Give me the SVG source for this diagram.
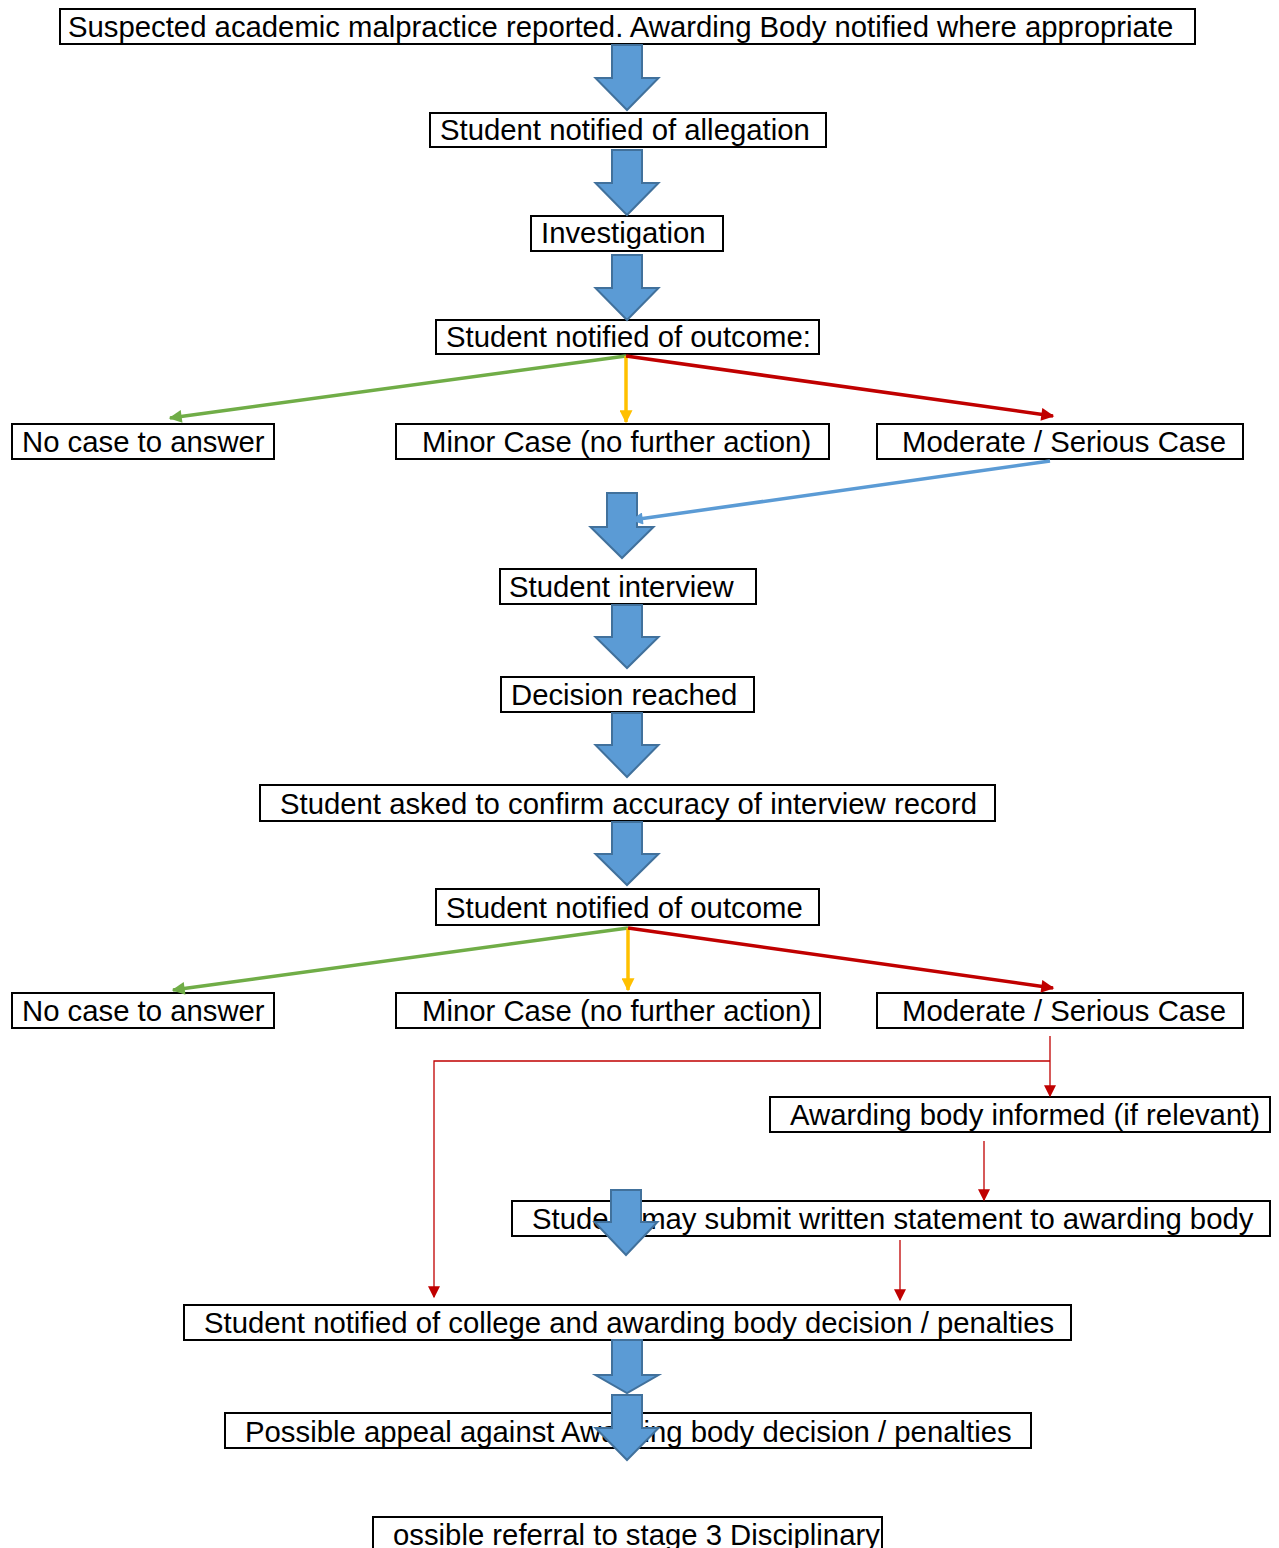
<svg xmlns="http://www.w3.org/2000/svg" width="1279" height="1548" viewBox="0 0 1279 1548">
<defs>
<style>
.box{fill:#fff;stroke:#000;stroke-width:2}
.t{font-family:"Liberation Sans",Arial,sans-serif;font-size:29.3px;fill:#000}
.blk{fill:#5B9BD5;stroke:#41719C;stroke-width:2}
.g{stroke:#70AD47;stroke-width:3.5;fill:none}
.y{stroke:#FFC000;stroke-width:3.5;fill:none}
.r{stroke:#C00000;stroke-width:3.5;fill:none}
.b{stroke:#5B9BD5;stroke-width:3.5;fill:none}
.rt{stroke:#C00000;stroke-width:1.3;fill:none}
</style>
<marker id="mg" viewBox="0 0 10 10" refX="9" refY="5" markerWidth="16" markerHeight="13" markerUnits="userSpaceOnUse" orient="auto"><path d="M0,0L10,5L0,10Z" fill="#70AD47"/></marker>
<marker id="my" viewBox="0 0 10 10" refX="9" refY="5" markerWidth="16" markerHeight="13" markerUnits="userSpaceOnUse" orient="auto"><path d="M0,0L10,5L0,10Z" fill="#FFC000"/></marker>
<marker id="mr" viewBox="0 0 10 10" refX="9" refY="5" markerWidth="16" markerHeight="13" markerUnits="userSpaceOnUse" orient="auto"><path d="M0,0L10,5L0,10Z" fill="#C00000"/></marker>
<marker id="mb" viewBox="0 0 10 10" refX="9" refY="5" markerWidth="14" markerHeight="12" markerUnits="userSpaceOnUse" orient="auto"><path d="M0,0L10,5L0,10Z" fill="#5B9BD5"/></marker>
<marker id="mrt" viewBox="0 0 10 10" refX="9" refY="5" markerWidth="15" markerHeight="12" markerUnits="userSpaceOnUse" orient="auto"><path d="M0,0L10,5L0,10Z" fill="#C00000"/></marker>
</defs>
<rect width="1279" height="1548" fill="#fff"/>
<g id="nodes">
<g id="n1"><rect class="box" x="60" y="9" width="1135" height="35"/><text class="t" x="68" y="37">Suspected academic malpractice reported. Awarding Body notified where appropriate</text></g>
<g id="n2"><rect class="box" x="430" y="113" width="396" height="34"/><text class="t" x="440" y="140">Student notified of allegation</text></g>
<g id="n3"><rect class="box" x="531" y="216" width="192" height="35"/><text class="t" x="541" y="243">Investigation</text></g>
<g id="n4"><rect class="box" x="436" y="320" width="383" height="34"/><text class="t" x="446" y="347">Student notified of outcome:</text></g>
<g id="n5"><rect class="box" x="12" y="424" width="262" height="35"/><text class="t" x="22" y="452">No case to answer</text></g>
<g id="n6"><rect class="box" x="396" y="424" width="433" height="35"/><text class="t" x="422" y="452">Minor Case (no further action)</text></g>
<g id="n7"><rect class="box" x="877" y="424" width="366" height="35"/><text class="t" x="902" y="452">Moderate / Serious Case</text></g>
<g id="n8"><rect class="box" x="500" y="569" width="256" height="35"/><text class="t" x="509" y="597">Student interview</text></g>
<g id="n9"><rect class="box" x="501" y="677" width="253" height="35"/><text class="t" x="511" y="705">Decision reached</text></g>
<g id="n10"><rect class="box" x="260" y="785" width="735" height="36"/><text class="t" x="280" y="814">Student asked to confirm accuracy of interview record</text></g>
<g id="n11"><rect class="box" x="436" y="889" width="383" height="36"/><text class="t" x="446" y="918">Student notified of outcome</text></g>
<g id="n12"><rect class="box" x="12" y="993" width="262" height="35"/><text class="t" x="22" y="1021">No case to answer</text></g>
<g id="n13"><rect class="box" x="396" y="993" width="424" height="35"/><text class="t" x="422" y="1021">Minor Case (no further action)</text></g>
<g id="n14"><rect class="box" x="877" y="993" width="366" height="35"/><text class="t" x="902" y="1021">Moderate / Serious Case</text></g>
<g id="n15"><rect class="box" x="770" y="1097" width="500" height="35"/><text class="t" x="790" y="1125">Awarding body informed (if relevant)</text></g>
<g id="n16"><rect class="box" x="512" y="1201" width="758" height="35"/><text class="t" x="532" y="1229">Student may submit written statement to awarding body</text></g>
<g id="n17"><rect class="box" x="184" y="1305" width="887" height="35"/><text class="t" x="204" y="1333">Student notified of college and awarding body decision / penalties</text></g>
<g id="n18"><rect class="box" x="225" y="1413" width="806" height="35"/><text class="t" x="245" y="1442">Possible appeal against Awarding body decision / penalties</text></g>
<g id="n19"><rect class="box" x="373" y="1517" width="509" height="40"/><text class="t" x="393" y="1545">ossible referral to stage 3 Disciplinary</text></g>
</g>
<g id="connectors">
<path class="blk" d="M612,45H642V78H658.5L627,110L595.5,78H612Z"/>
<path class="blk" d="M612,150H642V183H658.5L627,215L595.5,183H612Z"/>
<path class="blk" d="M612,255H642V288H658.5L627,320L595.5,288H612Z"/>
<path class="blk" d="M607,493H637V527H653.5L622,558L590.5,527H607Z"/>
<path class="blk" d="M612,605H642V637H658.5L627,668L595.5,637H612Z"/>
<path class="blk" d="M612,713H642V745H658.5L627,777L595.5,745H612Z"/>
<path class="blk" d="M612,822H642V854H658.5L627,885L595.5,854H612Z"/>
<path class="blk" d="M611,1190H641V1222H657.5L626,1255L594.5,1222H611Z"/>
<path class="blk" d="M612,1340H642V1375H658.5L627,1393L595.5,1375H612Z"/>
<path class="blk" d="M612,1395H642V1428H658.5L627,1460L595.5,1428H612Z"/>
<line class="g" x1="626" y1="356" x2="170" y2="418" marker-end="url(#mg)"/>
<line class="y" x1="626" y1="356" x2="626" y2="422" marker-end="url(#my)"/>
<line class="r" x1="626" y1="356" x2="1053" y2="416" marker-end="url(#mr)"/>
<line class="b" x1="1050" y1="461" x2="632" y2="520" marker-end="url(#mb)"/>
<line class="g" x1="628" y1="928" x2="173" y2="990" marker-end="url(#mg)"/>
<line class="y" x1="628" y1="928" x2="628" y2="990" marker-end="url(#my)"/>
<line class="r" x1="628" y1="928" x2="1053" y2="988" marker-end="url(#mr)"/>
<line class="rt" x1="1050" y1="1036" x2="1050" y2="1096" marker-end="url(#mrt)"/>
<polyline class="rt" points="1050,1061 434,1061 434,1297" marker-end="url(#mrt)"/>
<line class="rt" x1="984" y1="1141" x2="984" y2="1200" marker-end="url(#mrt)"/>
<line class="rt" x1="900" y1="1240" x2="900" y2="1300" marker-end="url(#mrt)"/>
</g>
</svg>
